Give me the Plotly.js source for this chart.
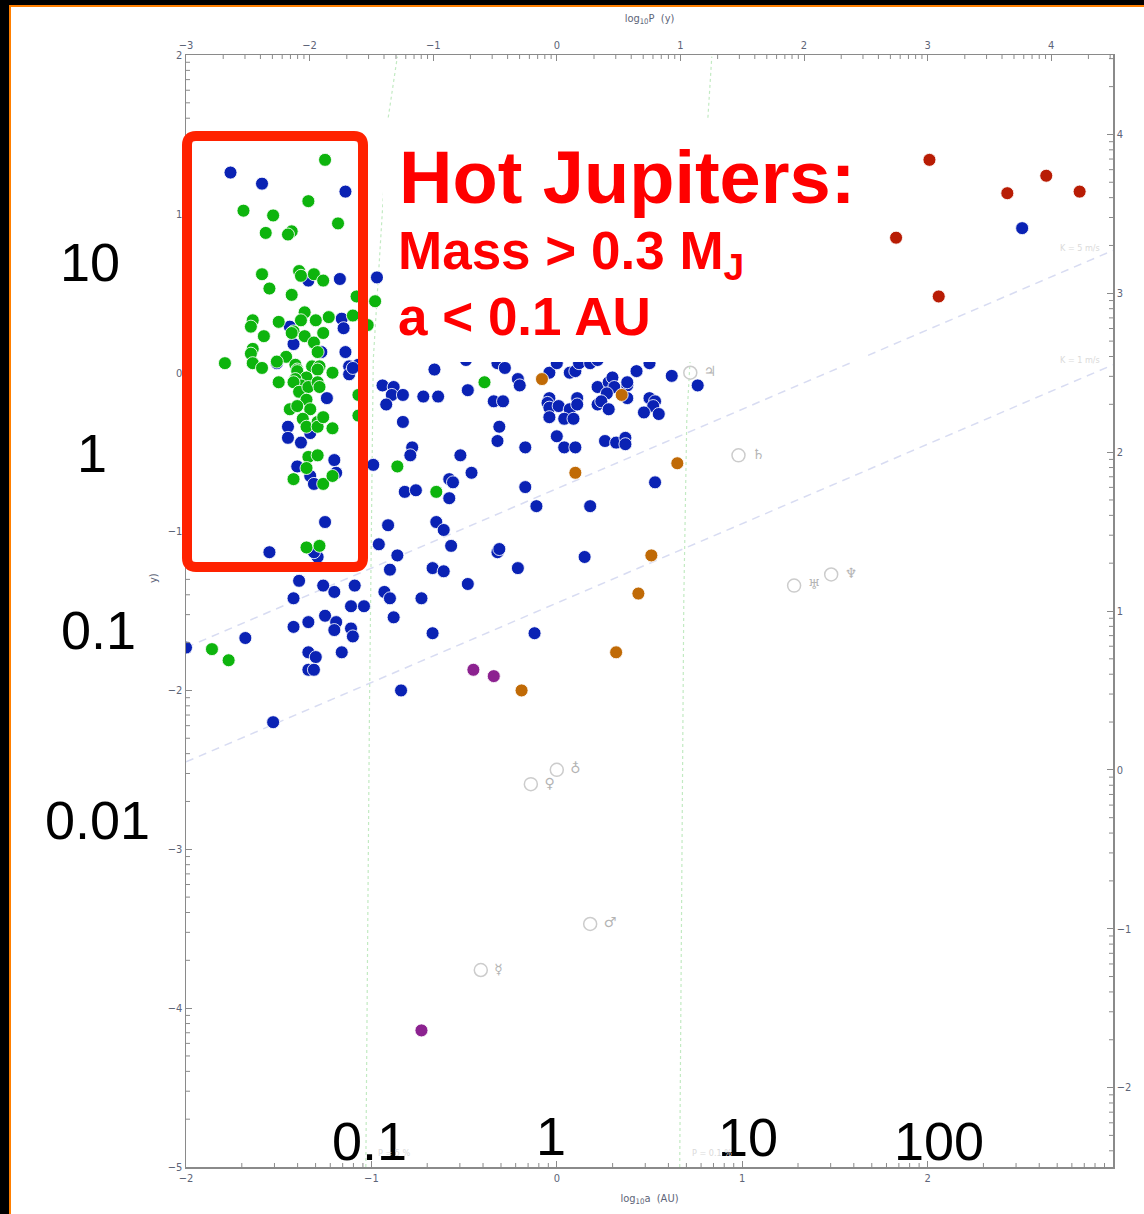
<!DOCTYPE html>
<html><head><meta charset="utf-8">
<script src="https://cdn.plot.ly/plotly-3.0.1.min.js"></script>
<style>
html,body{margin:0;padding:0;background:#000;width:1144px;height:1214px;overflow:hidden;}
#frame{position:absolute;left:9px;top:5px;border-left:2px solid #ff7f00;border-top:2px solid #ff7f00;background:#fff;}
#chart{width:1133px;height:1207px;}
</style></head><body>
<div id="frame"><div id="chart"></div></div>
<script>
// ---- data (log10 a [AU], log10 M [M_J]) ----
const blueLogA = [-1.76,-1.59,-1.14,-1.34,-1.17,-0.97,-1.44,-1.16,-1.15,-1.42,-1.27,-1.14,-1.51,-1.12,-1.07,-1.12,-1.10,-1.24,-1.45,-1.45,-1.38,-1.33,-1.20,-1.19,-1.40,-1.33,-1.31,-1.25,-1.55,-1.29,-1.31,
 -0.94,-0.88,-0.89,-0.83,-0.92,-0.72,-0.64,-0.83,-0.78,-0.79,-0.99,-0.82,-0.76,-0.91,-0.96,-0.86,-0.90,
 -0.66,-0.49,-0.32,-0.28,-0.21,-0.20,-0.04,0.00,0.07,0.10,0.12,0.18,0.22,
 -0.48,-0.34,-0.29,-0.31,-0.32,
 -0.04,-0.05,-0.04,-0.04,0.01,0.07,0.11,0.11,0.04,0.09,
 0.22,0.28,0.30,0.31,0.38,0.38,0.27,0.22,0.24,0.28,0.38,0.43,0.50,0.50,0.53,0.52,0.47,0.55,0.62,0.76,
 -0.52,-0.17,0.00,0.04,0.10,0.26,0.32,0.37,0.37,0.53,
 -0.58,-0.56,-0.58,-0.46,-0.17,-0.11,0.18,
 -0.65,-0.61,-0.57,-0.32,-0.31,0.15,
 -0.67,-0.61,-0.21,-0.48,
 -1.39,-1.26,-1.20,-1.09,-1.42,-1.11,-1.04,-0.93,-0.90,-0.73,-0.88,-1.25,-1.19,-1.20,-1.42,-1.34,-1.11,-1.10,-0.67,-0.12,-1.68,-2.00,-1.34,-1.30,-1.16,-1.34,-1.31,-0.84,-1.53,
 2.51];
const blueLogM = [1.26,1.19,1.14,0.58,0.59,0.60,0.29,0.34,0.28,0.18,0.13,0.13,0.06,0.04,0.05,-0.01,0.03,-0.16,-0.34,-0.41,-0.44,-0.38,-0.55,-0.63,-0.59,-0.65,-0.70,-0.94,-1.13,-1.16,-1.13,
 -0.08,-0.09,-0.14,-0.14,-0.20,-0.15,-0.15,-0.31,-0.47,-0.52,-0.58,-0.75,-0.74,-0.96,-1.08,-1.15,-1.24,
 0.02,0.08,0.06,0.03,-0.04,-0.08,0.00,0.06,0.00,0.01,0.06,0.06,0.08,
 -0.11,-0.18,-0.18,-0.34,-0.43,
 -0.16,-0.19,-0.22,-0.28,-0.21,-0.23,-0.16,-0.20,-0.29,-0.29,
 -0.09,-0.06,-0.03,-0.09,-0.08,-0.06,-0.13,-0.20,-0.18,-0.23,-0.16,0.01,0.06,-0.16,-0.18,-0.21,-0.25,-0.26,-0.02,-0.08,
 -0.52,-0.47,-0.40,-0.47,-0.47,-0.43,-0.44,-0.41,-0.45,-0.69,
 -0.67,-0.69,-0.79,-0.63,-0.72,-0.84,-0.84,
 -0.94,-0.99,-1.09,-1.13,-1.11,-1.16,
 -1.23,-1.25,-1.23,-1.33,
 -1.31,-1.34,-1.38,-1.34,-1.42,-1.47,-1.47,-1.38,-1.42,-1.42,-1.54,-1.53,-1.57,-1.62,-1.60,-1.57,-1.61,-1.66,-1.64,-1.64,-1.67,-1.73,-1.76,-1.79,-1.76,-1.87,-1.87,-2.00,-2.20,
 0.91];

const greenLogA = [-1.25,-1.69,-1.53,-1.34,-1.18,-1.57,-1.43,-1.45,-1.59,-1.39,-1.38,-1.31,-1.26,-1.55,-1.43,-1.08,-0.98,-1.64,-1.65,-1.50,-1.36,-1.38,-1.42,-1.30,-1.23,-1.10,-1.02,-1.58,-1.36,-1.26,-1.31,-1.64,-1.65,-1.29,-1.79,-1.64,-1.46,-1.59,-1.41,-1.40,-1.32,-1.28,-1.21,-1.43,-1.51,-1.40,-1.29,-1.35,-1.41,-1.38,-1.50,-1.42,-1.39,-1.34,-1.29,-1.28,-1.35,-1.44,-1.40,-1.33,-1.37,-1.35,-1.29,-1.29,-1.26,-1.21,-1.34,-1.29,-1.35,-1.42,-1.26,-1.21,-1.35,-1.28,-0.86,-0.39,-0.65,-1.86,-1.77,-1.07,-1.07];
const greenLogM = [1.34,1.02,0.99,1.08,0.94,0.88,0.89,0.87,0.62,0.64,0.61,0.62,0.58,0.53,0.49,0.48,0.45,0.33,0.29,0.32,0.38,0.33,0.26,0.33,0.35,0.36,0.30,0.23,0.23,0.25,0.19,0.15,0.12,0.13,0.06,0.06,0.10,0.03,0.05,0.02,0.04,0.04,0.00,0.25,0.07,0.01,0.02,-0.03,-0.04,-0.08,-0.06,-0.06,-0.12,-0.09,-0.06,-0.09,-0.17,-0.23,-0.21,-0.23,-0.29,-0.34,-0.31,-0.34,-0.28,-0.35,-0.53,-0.52,-0.60,-0.67,-0.70,-0.65,-1.10,-1.09,-0.59,-0.06,-0.75,-1.74,-1.81,-0.14,-0.27];

const redLogA = [2.01,2.64,2.43,2.82,1.83,2.06];
const redLogM = [1.34,1.24,1.13,1.14,0.85,0.48];

const orangeLogA = [-0.08,0.35,0.10,0.65,0.51,0.44,0.32,-0.19];
const orangeLogM = [-0.04,-0.14,-0.63,-0.57,-1.15,-1.39,-1.76,-2.00];

const purpleLogA = [-0.45,-0.34,-0.73];
const purpleLogM = [-1.87,-1.91,-4.14];

const solarLogA = [-0.41,-0.14,0.00,0.18,0.72,0.98,1.28,1.48];
const solarLogM = [-3.76,-2.59,-2.50,-3.47,0.00,-0.52,-1.34,-1.27];
const solarSymbols = ['☿','♀','♁','♂','♃','♄','♅','♆'];

// guide curves
const transit5A = [-1.03,-1.01,-0.99,-0.91,-0.86];
const transit5M = [-5.00,-2.06,0.08,1.60,1.99];
const transit01A = [0.663,0.674,0.685,0.701,0.728,0.798,0.836];
const transit01M = [-5.00,-3.31,-1.43,-0.30,0.27,1.29,1.99];
const kLineA = [-2, 3];
const k5M = [-1.73, 0.77];
const k1M = [-2.45, 0.05];

// axis ticks
const aTicks = [-2,-1,0,1,2];
const mTicks = [-5,-4,-3,-2,-1,0,1,2];
const pTicks = [-3,-2,-1,0,1,2,3,4];
const meTicks = [-2,-1,0,1,2,3,4];

// overlay labels
const leftBig = ['10','1','0.1','0.01'];
const bottomBig = ['0.1','1','10','100'];

// ---- helpers: plot-area pixel -> paper ----
const PX = px => (px - 186) / 927;
const PY = py => (1167 - py) / 1112;

const mk = (c) => ({size: 13, color: c, line: {color: 'rgba(255,255,255,0.85)', width: 1}});

const traces = [
  {x: transit5A, y: transit5M, mode: 'lines', line: {color: '#c2eac2', width: 1.2, dash: 'dot'}, hoverinfo: 'skip'},
  {x: transit01A, y: transit01M, mode: 'lines', line: {color: '#c2eac2', width: 1.2, dash: 'dot'}, hoverinfo: 'skip'},
  {x: kLineA, y: k5M, mode: 'lines', line: {color: '#d8dcf2', width: 1.5, dash: '8px,6px'}, hoverinfo: 'skip'},
  {x: kLineA, y: k1M, mode: 'lines', line: {color: '#d8dcf2', width: 1.5, dash: '8px,6px'}, hoverinfo: 'skip'},
  {x: blueLogA, y: blueLogM, mode: 'markers', marker: mk('#0a22b4')},
  {x: greenLogA, y: greenLogM, mode: 'markers', marker: mk('#0db40d')},
  {x: orangeLogA, y: orangeLogM, mode: 'markers', marker: mk('#c06a06')},
  {x: purpleLogA, y: purpleLogM, mode: 'markers', marker: mk('#8c2290')},
  {x: redLogA, y: redLogM, mode: 'markers', marker: mk('#b81c04')},
  {x: solarLogA, y: solarLogM, mode: 'markers+text', text: solarSymbols.map(s => ' ' + s),
   textposition: 'middle right', textfont: {family: 'DejaVu Sans', size: 14, color: '#b4b4b4'},
   marker: {symbol: 'circle-open', size: 13, color: '#cccccc', line: {width: 1.5}}},
  {x: [], y: [], xaxis: 'x2', yaxis: 'y2', mode: 'markers', hoverinfo: 'skip'}
];

const tickFont = {family: 'DejaVu Sans Condensed, Liberation Sans Narrow, Liberation Sans, sans-serif', size: 11, color: '#5d6478'};
const axBase = {showgrid: false, zeroline: false, showline: true, linecolor: '#8a8a8a', linewidth: 1.5,
  ticks: 'inside', ticklen: 6, tickcolor: '#8a8a8a', tickfont: tickFont, fixedrange: true};

const shapes = [];
function minor(ref, lo, hi, kind) {
  for (let d = Math.floor(lo) - 1; d <= Math.ceil(hi); d++) {
    for (let k = 2; k <= 9; k++) {
      const v = d + Math.log10(k);
      if (v <= lo || v >= hi) continue;
      const ln = {color: '#8a8a8a', width: 1};
      if (kind === 'left') shapes.push({type: 'line', xref: 'paper', yref: ref, x0: 0, x1: 4/927, y0: v, y1: v, line: ln});
      if (kind === 'right') shapes.push({type: 'line', xref: 'paper', yref: ref, x0: 1, x1: 1 - 4/927, y0: v, y1: v, line: ln});
      if (kind === 'bottom') shapes.push({type: 'line', xref: ref, yref: 'paper', y0: 0, y1: 4/1112, x0: v, x1: v, line: ln});
      if (kind === 'top') shapes.push({type: 'line', xref: ref, yref: 'paper', y0: 1, y1: 1 - 4/1112, x0: v, x1: v, line: ln});
    }
  }
}
minor('y', -5, 2, 'left');
minor('y2', -2.5, 4.5, 'right');
minor('x', -2, 3, 'bottom');
minor('x2', -3, 4.5, 'top');

// white text panel
shapes.push({type: 'rect', xref: 'paper', yref: 'paper', x0: PX(383), x1: PX(868), y0: PY(362), y1: PY(120),
  fillcolor: '#ffffff', line: {width: 0}, layer: 'above'});
// red rounded box
(function () {
  const l = PX(187), r = PX(363), t = PY(136), b = PY(567), rx = 9/927, ry = 9/1112;
  const p = `M ${l+rx},${t} L ${r-rx},${t} Q ${r},${t} ${r},${t-ry} L ${r},${b+ry} Q ${r},${b} ${r-rx},${b} L ${l+rx},${b} Q ${l},${b} ${l},${b+ry} L ${l},${t-ry} Q ${l},${t} ${l+rx},${t} Z`;
  shapes.push({type: 'path', xref: 'paper', yref: 'paper', path: p, line: {color: '#ff2200', width: 10}, layer: 'above'});
})();

const annotations = [];
const red = '#ff0000';
const bold = 'Liberation Sans, Arial, Helvetica, sans-serif';
annotations.push({xref: 'paper', yref: 'paper', x: PX(397), y: PY(178), xanchor: 'left', yanchor: 'middle', showarrow: false,
  text: '<b>Hot Jupiters:</b>', font: {family: bold, size: 74, color: red}});
annotations.push({xref: 'paper', yref: 'paper', x: PX(396), y: PY(254), xanchor: 'left', yanchor: 'middle', showarrow: false,
  text: '<b>Mass &gt; 0.3 M<sub>J</sub></b>', font: {family: bold, size: 53, color: red}});
annotations.push({xref: 'paper', yref: 'paper', x: PX(396), y: PY(316), xanchor: 'left', yanchor: 'middle', showarrow: false,
  text: '<b>a &lt; 0.1 AU</b>', font: {family: bold, size: 53, color: red}});

const bigFont = {family: 'Liberation Sans, Arial, Helvetica, sans-serif', size: 54, color: '#000'};
const leftPos = [[90, 262], [92, 453], [98, 630], [97, 820]];
leftBig.forEach((t, i) => annotations.push({xref: 'paper', yref: 'paper', x: PX(leftPos[i][0]), y: PY(leftPos[i][1]),
  xanchor: 'center', yanchor: 'middle', showarrow: false, text: t, font: bigFont}));
const botPos = [[369, 1141], [551, 1136], [748, 1137], [939, 1141]];
bottomBig.forEach((t, i) => annotations.push({xref: 'paper', yref: 'paper', x: PX(botPos[i][0]), y: PY(botPos[i][1]),
  xanchor: 'center', yanchor: 'middle', showarrow: false, text: t, font: bigFont}));

const faint = {family: 'DejaVu Sans Condensed, Liberation Sans Narrow, sans-serif', size: 9, color: '#dadada'};
annotations.push({xref: 'paper', yref: 'paper', x: PX(376), y: PY(1153), xanchor: 'left', yanchor: 'middle', showarrow: false, text: 'P = 5 %', font: faint});
annotations.push({xref: 'paper', yref: 'paper', x: PX(690), y: PY(1153), xanchor: 'left', yanchor: 'middle', showarrow: false, text: 'P = 0.1 %', font: faint});
annotations.push({xref: 'paper', yref: 'paper', x: PX(1102), y: PY(248), xanchor: 'right', yanchor: 'middle', showarrow: false, text: 'K = 5 m/s', font: faint});
annotations.push({xref: 'paper', yref: 'paper', x: PX(1102), y: PY(360), xanchor: 'right', yanchor: 'middle', showarrow: false, text: 'K = 1 m/s', font: faint});
annotations.push({xref: 'paper', yref: 'paper', x: PX(153), y: PY(578), xanchor: 'center', yanchor: 'middle', showarrow: false, text: 'y)', textangle: -90,
  font: {family: 'DejaVu Sans Condensed, sans-serif', size: 11, color: '#5d6478'}});

const titleFont = {family: 'DejaVu Sans Condensed, Liberation Sans Narrow, Liberation Sans, sans-serif', size: 11, color: '#5d6478'};
const layout = {
  width: 1133, height: 1207,
  margin: {l: 175, r: 31, t: 48, b: 47, pad: 0},
  paper_bgcolor: '#ffffff', plot_bgcolor: '#ffffff',
  showlegend: false,
  xaxis: Object.assign({}, axBase, {range: [-2, 3], tickvals: aTicks, anchor: 'y',
    title: {text: 'log<sub>10</sub>a  (AU)', font: titleFont, standoff: 10}}),
  yaxis: Object.assign({}, axBase, {range: [-5, 2], tickvals: mTicks, anchor: 'x'}),
  xaxis2: Object.assign({}, axBase, {range: [-3, 4.5], tickvals: pTicks, overlaying: 'x', side: 'top', anchor: 'y',
    title: {text: 'log<sub>10</sub>P  (y)', font: titleFont, standoff: 14}}),
  yaxis2: Object.assign({}, axBase, {range: [-2.5, 4.5], tickvals: meTicks, overlaying: 'y', side: 'right', anchor: 'x'}),
  shapes: shapes,
  annotations: annotations
};

Plotly.newPlot('chart', traces, layout, {displayModeBar: false, staticPlot: true});
</script>
</body></html>
